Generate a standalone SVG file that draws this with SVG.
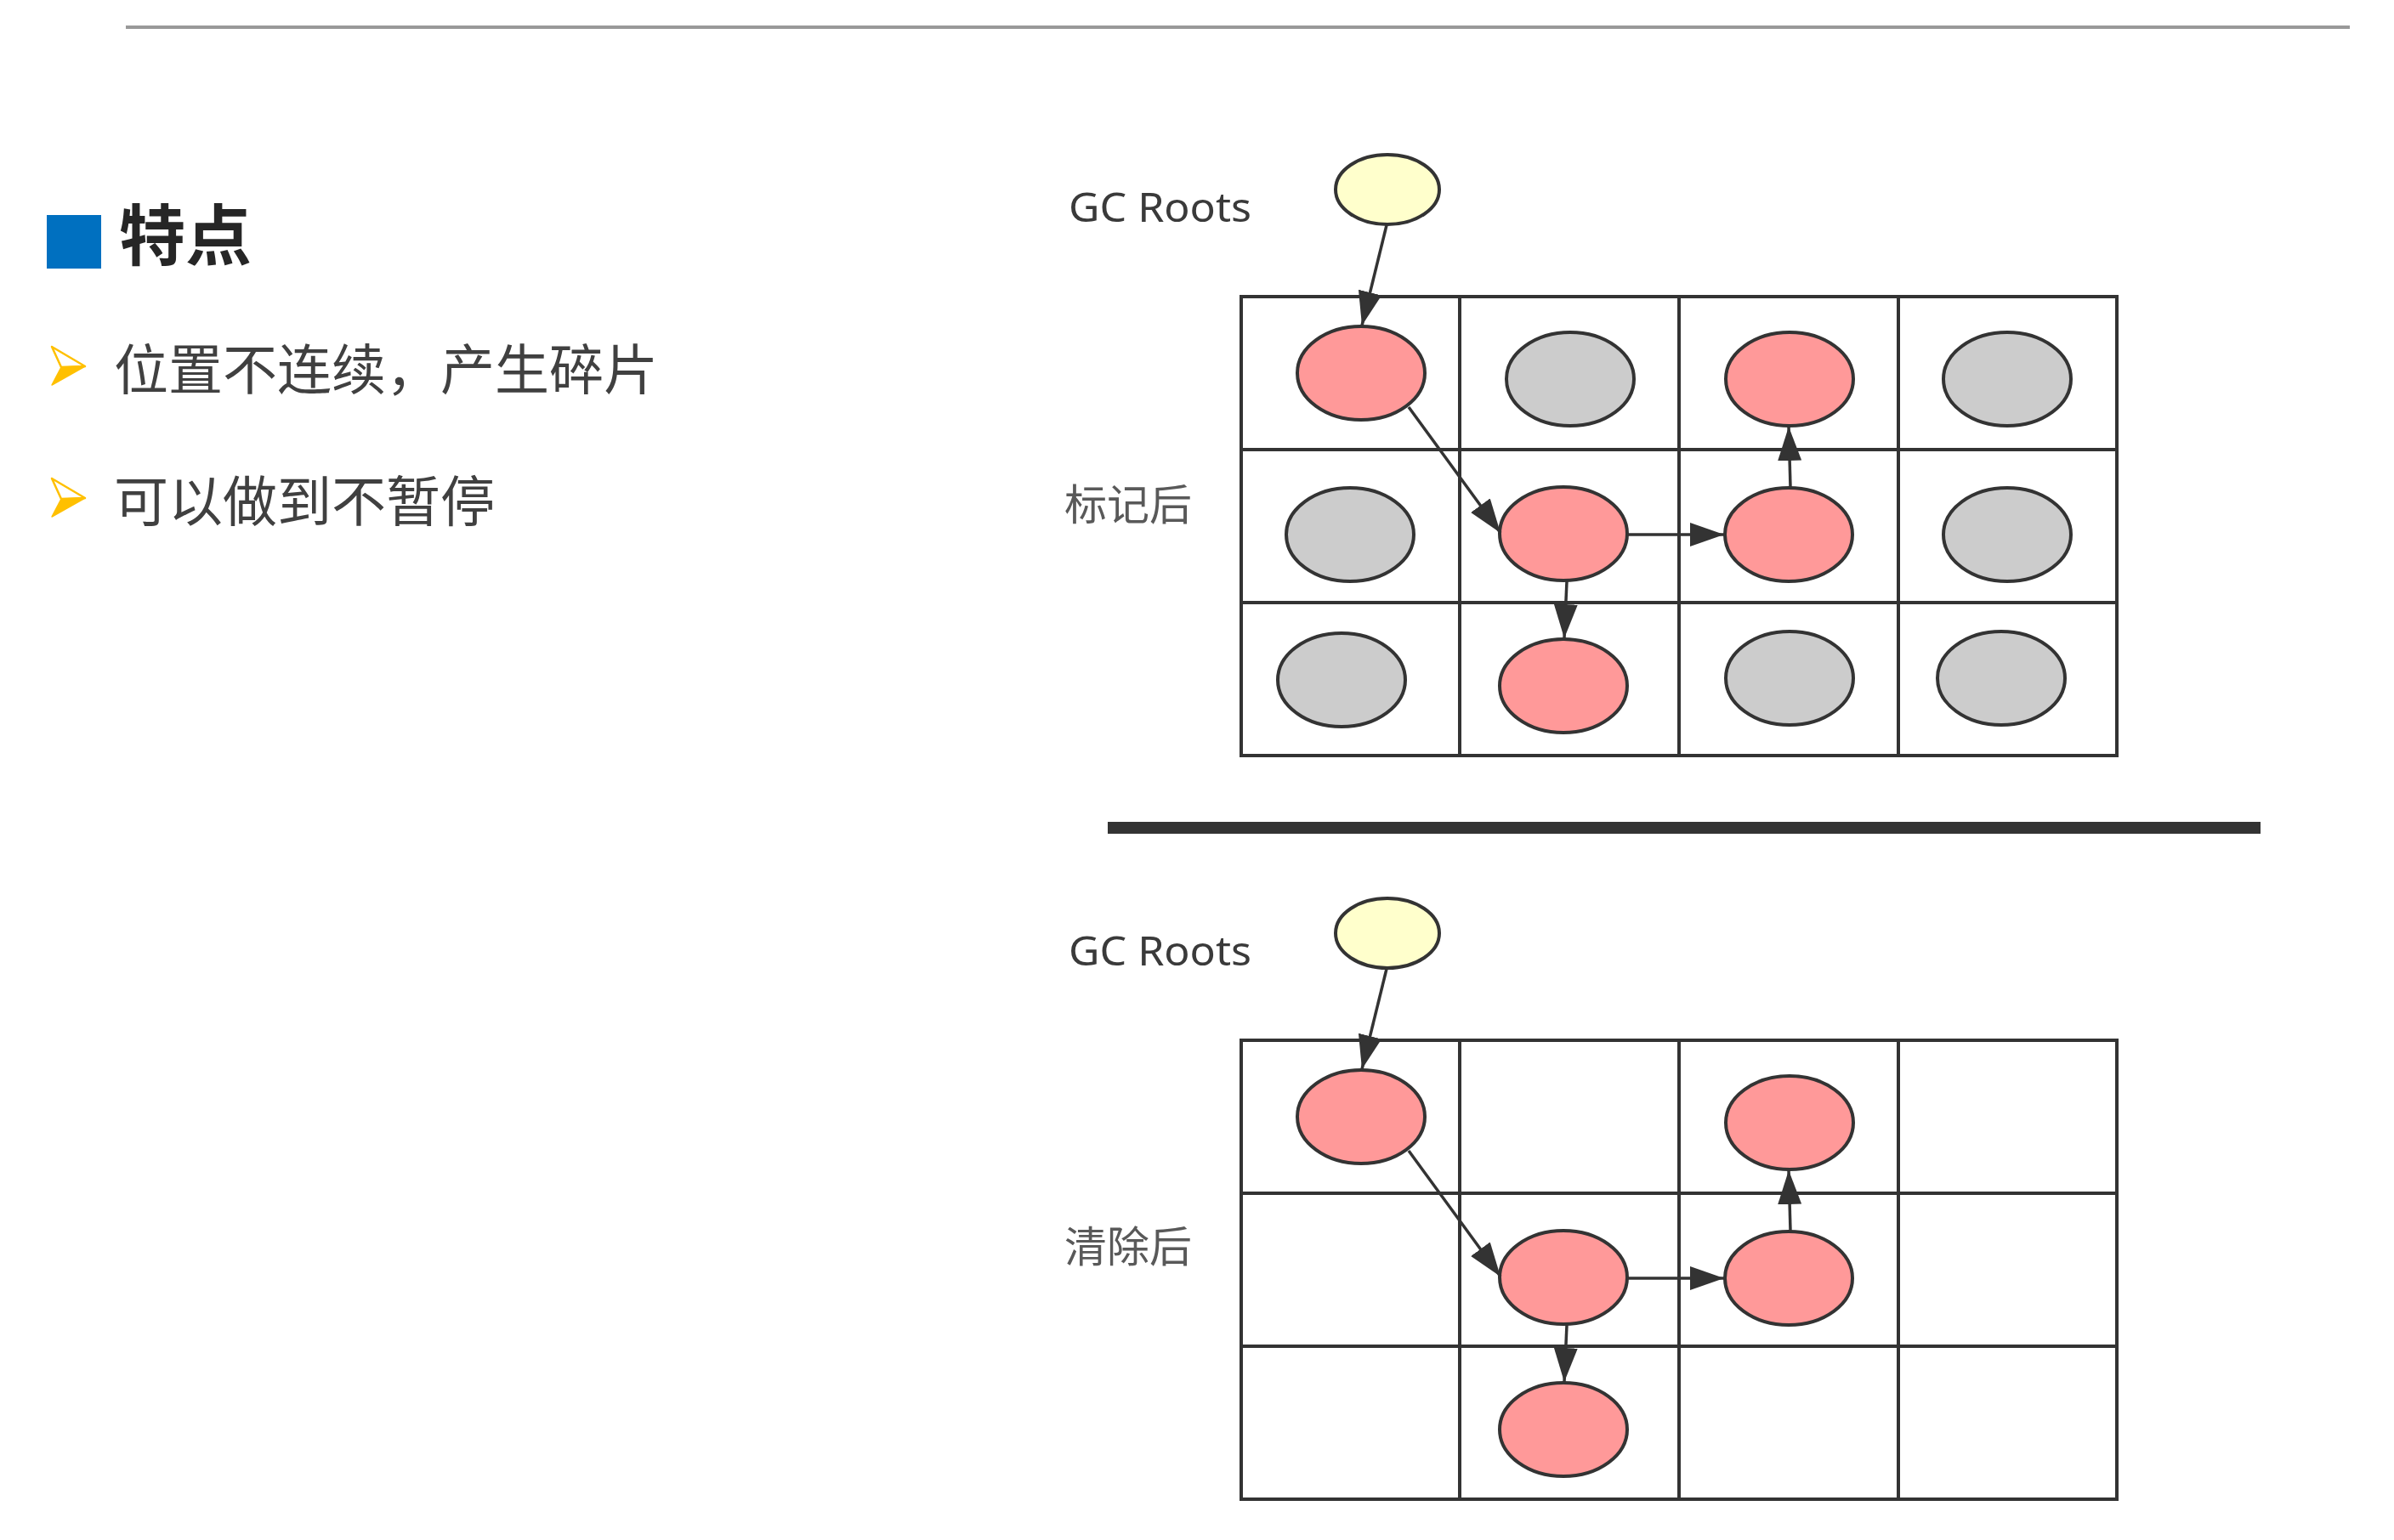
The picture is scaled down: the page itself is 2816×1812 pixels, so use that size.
<svg xmlns="http://www.w3.org/2000/svg" width="2816" height="1812" viewBox="0 0 2816 1812">
  <defs>
    <style>
      .cjk { font-family: "Noto Sans CJK SC", "Noto Sans", sans-serif; }
      .lbl { font-family: "Noto Sans", "Open Sans", sans-serif; font-size: 48px; fill: #3a3a3a; }
      .side { font-family: "Noto Sans CJK SC", sans-serif; font-size: 50px; fill: #595959; }
      .grid { fill: none; stroke: #333333; stroke-width: 4; }
      .red { fill: #FF9999; stroke: #333333; stroke-width: 4; }
      .gray { fill: #CCCCCC; stroke: #333333; stroke-width: 4; }
      .root { fill: #FFFFCC; stroke: #333333; stroke-width: 4; }
      .edge { stroke: #333333; stroke-width: 3.5; fill: none; marker-end: url(#arr); }
    </style>
    <marker id="arr" markerUnits="userSpaceOnUse" markerWidth="42" markerHeight="30" refX="40" refY="14" orient="auto">
      <path d="M0,0 L40,14 L0,28 z" fill="#333333"/>
    </marker>
  </defs>

  <rect width="2816" height="1812" fill="#ffffff"/>

  <!-- top rule -->
  <line x1="148" y1="32" x2="2764" y2="32" stroke="#999999" stroke-width="4"/>

  <!-- left text -->
  <g id="title">
    <rect x="55" y="253" width="64" height="63" fill="#0070C0"/>
    <text class="cjk" x="140" y="306" font-size="78" font-weight="bold" fill="#262626">特点</text>
  </g>
  <g id="bullet1">
    <polygon points="61,408 100,431 72,432" fill="#ffffff" stroke="#FFC000" stroke-width="2.5" stroke-linejoin="round"/>
    <polygon points="72,432 100,431 61,453" fill="#FFC000" stroke="#FFC000" stroke-width="1.5" stroke-linejoin="round"/>
    <text class="cjk" x="134" y="458" font-size="64" fill="#404040">位置不连续，产生碎片</text>
  </g>
  <g id="bullet2">
    <polygon points="61,563 100,586 72,587" fill="#ffffff" stroke="#FFC000" stroke-width="2.5" stroke-linejoin="round"/>
    <polygon points="72,587 100,586 61,608" fill="#FFC000" stroke="#FFC000" stroke-width="1.5" stroke-linejoin="round"/>
    <text class="cjk" x="134" y="613" font-size="64" fill="#404040">可以做到不暂停</text>
  </g>

  <!-- marked section -->
  <g id="marked">
    <text class="lbl" x="1257" y="261" textLength="215" lengthAdjust="spacingAndGlyphs">GC Roots</text>
    <text class="side" x="1252" y="612">标记后</text>
    <g id="marked-grid">
      <rect class="grid" x="1460" y="349" width="1030" height="540"/>
      <line class="grid" x1="1717" y1="349" x2="1717" y2="889"/>
      <line class="grid" x1="1975" y1="349" x2="1975" y2="889"/>
      <line class="grid" x1="2233" y1="349" x2="2233" y2="889"/>
      <line class="grid" x1="1460" y1="529" x2="2490" y2="529"/>
      <line class="grid" x1="1460" y1="709" x2="2490" y2="709"/>
    </g>
    <g id="m-root"><ellipse class="root" cx="1632" cy="223" rx="61" ry="41"/></g>
    <g id="m-n00"><ellipse class="red" cx="1601" cy="439" rx="75" ry="55"/></g>
    <g id="m-n01"><ellipse class="gray" cx="1847" cy="446" rx="75" ry="55"/></g>
    <g id="m-n02"><ellipse class="red" cx="2105" cy="446" rx="75" ry="55"/></g>
    <g id="m-n03"><ellipse class="gray" cx="2361" cy="446" rx="75" ry="55"/></g>
    <g id="m-n10"><ellipse class="gray" cx="1588" cy="629" rx="75" ry="55"/></g>
    <g id="m-n11"><ellipse class="red" cx="1839" cy="628" rx="75" ry="55"/></g>
    <g id="m-n12"><ellipse class="red" cx="2104" cy="629" rx="75" ry="55"/></g>
    <g id="m-n13"><ellipse class="gray" cx="2361" cy="629" rx="75" ry="55"/></g>
    <g id="m-n20"><ellipse class="gray" cx="1578" cy="800" rx="75" ry="55"/></g>
    <g id="m-n21"><ellipse class="red" cx="1839" cy="807" rx="75" ry="55"/></g>
    <g id="m-n22"><ellipse class="gray" cx="2105" cy="798" rx="75" ry="55"/></g>
    <g id="m-n23"><ellipse class="gray" cx="2354" cy="798" rx="75" ry="55"/></g>
    <g id="m-edges">
      <line class="edge" x1="1631" y1="265" x2="1602" y2="383"/>
      <line class="edge" x1="1657" y1="479" x2="1765" y2="627"/>
      <line class="edge" x1="1914" y1="629" x2="2028" y2="629"/>
      <line class="edge" x1="1843" y1="684" x2="1840" y2="751"/>
      <line class="edge" x1="2106" y1="573" x2="2104" y2="502"/>
    </g>
  </g>

  <!-- divider -->
  <line x1="1303" y1="974" x2="2659" y2="974" stroke="#333333" stroke-width="14"/>

  <!-- swept section -->
  <g id="swept" transform="translate(0,875)">
    <text class="lbl" x="1257" y="261" textLength="215" lengthAdjust="spacingAndGlyphs">GC Roots</text>
    <text class="side" x="1252" y="610">清除后</text>
    <g id="swept-grid">
      <rect class="grid" x="1460" y="349" width="1030" height="540"/>
      <line class="grid" x1="1717" y1="349" x2="1717" y2="889"/>
      <line class="grid" x1="1975" y1="349" x2="1975" y2="889"/>
      <line class="grid" x1="2233" y1="349" x2="2233" y2="889"/>
      <line class="grid" x1="1460" y1="529" x2="2490" y2="529"/>
      <line class="grid" x1="1460" y1="709" x2="2490" y2="709"/>
    </g>
    <g id="s-root"><ellipse class="root" cx="1632" cy="223" rx="61" ry="41"/></g>
    <g id="s-n00"><ellipse class="red" cx="1601" cy="439" rx="75" ry="55"/></g>
    <g id="s-n02"><ellipse class="red" cx="2105" cy="446" rx="75" ry="55"/></g>
    <g id="s-n11"><ellipse class="red" cx="1839" cy="628" rx="75" ry="55"/></g>
    <g id="s-n12"><ellipse class="red" cx="2104" cy="629" rx="75" ry="55"/></g>
    <g id="s-n21"><ellipse class="red" cx="1839" cy="807" rx="75" ry="55"/></g>
    <g id="s-edges">
      <line class="edge" x1="1631" y1="265" x2="1602" y2="383"/>
      <line class="edge" x1="1657" y1="479" x2="1765" y2="627"/>
      <line class="edge" x1="1914" y1="629" x2="2028" y2="629"/>
      <line class="edge" x1="1843" y1="684" x2="1840" y2="751"/>
      <line class="edge" x1="2106" y1="573" x2="2104" y2="502"/>
    </g>
  </g>
</svg>
